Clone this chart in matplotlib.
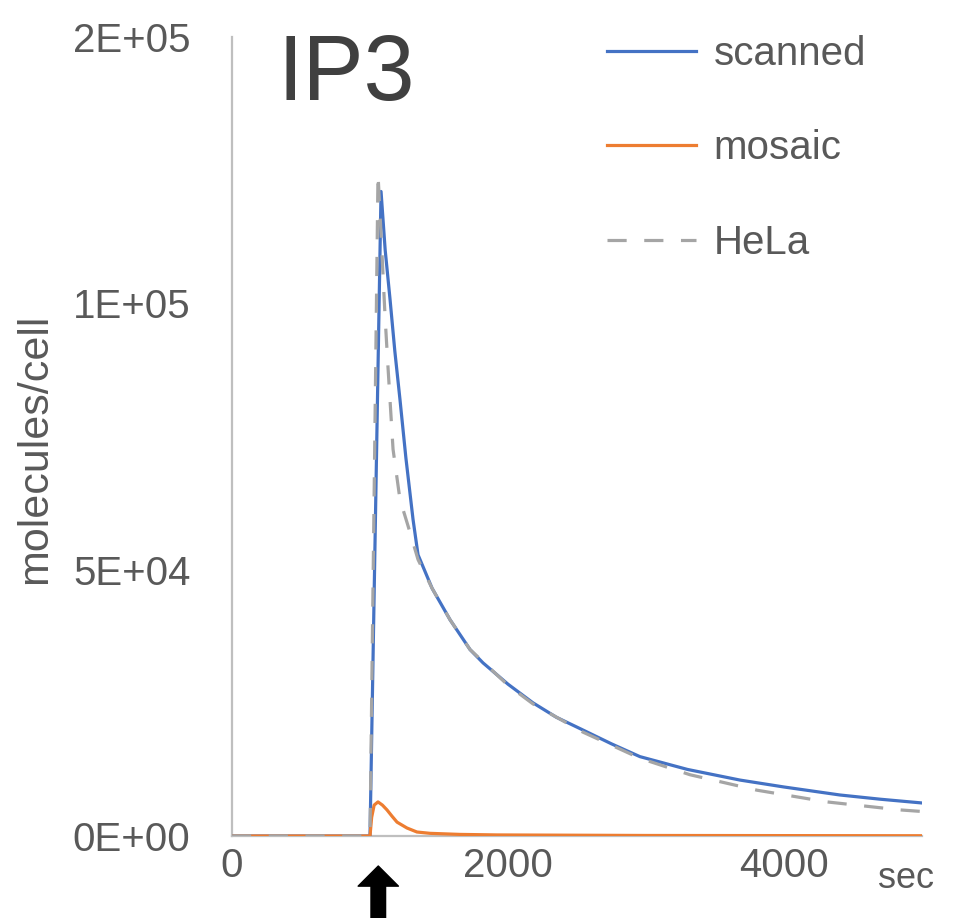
import matplotlib
matplotlib.use("Agg")
import matplotlib.pyplot as plt

plt.rcParams['font.family'] = ['Liberation Sans', 'DejaVu Sans']

# ---- data ----
scanned_t = [0, 1000, 1080, 1110, 1145, 1180, 1217, 1260, 1312, 1348, 1450, 1580, 1725,
             1819, 2000, 2181, 2350, 2543, 2750, 2956, 3300, 3681, 4000, 4405, 4700, 5000]
scanned_v = [0, 0, 121000, 110000, 100800, 91000, 82000, 71000, 59400, 52800, 46500, 40600, 35000,
             32500, 28500, 25000, 22300, 19900, 17300, 14900, 12500, 10500, 9200, 7700, 6900, 6200]

mosaic_t = [0, 1000, 1012, 1030, 1058, 1090, 1123, 1160, 1196, 1268, 1340, 1435, 1650, 1920, 3000, 5000]
mosaic_v = [0, 0, 3500, 5800, 6400, 5800, 4900, 3700, 2600, 1500, 750, 500, 300, 200, 100, 50]

hela_t = [0, 1000, 1058, 1080, 1109, 1130, 1167, 1217, 1290, 1348, 1450, 1580, 1725,
          2000, 2181, 2543, 2956, 3319, 3804, 4311, 4840, 5000]
hela_v = [0, 0, 124300, 113000, 97600, 88200, 72600, 63200, 57000, 51900, 46500, 40600, 35000,
          28300, 24800, 19500, 14600, 11500, 8600, 6400, 4900, 4600]

series_names = ["scanned", "mosaic", "HeLa"]
y_ticks = [0, 50000, 100000, 150000]
y_tick_labels = ["0E+00", "5E+04", "1E+05", "2E+05"]
x_ticks = [0, 2000, 4000]
x_tick_labels = ["0", "2000", "4000"]
stimulus_t = 1060

# ---- figure ----
fig = plt.figure(figsize=(9.69, 9.18), dpi=100)
ax = fig.add_axes([232/969, 1-836/918, (922-232)/969, (836-37)/918])

blue, orange, gray = "#4472C4", "#ED7D31", "#A5A5A5"
ax.plot(scanned_t, scanned_v, color=blue, lw=2.3, label=series_names[0], zorder=3,
        solid_joinstyle='round')
ax.plot(mosaic_t, mosaic_v, color=orange, lw=2.3, label=series_names[1], zorder=4,
        solid_joinstyle='round')
ax.plot(hela_t, hela_v, color=gray, lw=2.3, dashes=(6, 5.5), label=series_names[2], zorder=5)

ax.set_xlim(0, 5000)
ax.set_ylim(0, 150000)
ax.set_yticks(y_ticks)
ax.set_yticklabels(y_tick_labels)
ax.set_xticks(x_ticks)
ax.set_xticklabels(x_tick_labels)
ax.tick_params(axis='both', length=0, labelsize=29, labelcolor="#595959")
ax.tick_params(axis='y', pad=30)
ax.tick_params(axis='x', pad=8)

for s in ['top', 'right']:
    ax.spines[s].set_visible(False)
for s in ['left', 'bottom']:
    ax.spines[s].set_color("#BFBFBF")
    ax.spines[s].set_linewidth(1.6)

leg = ax.legend(loc='upper left', bbox_to_anchor=(607/969, 1-35/918),
                bbox_transform=fig.transFigure, frameon=False, fontsize=29,
                handlelength=2.2, handletextpad=0.45, labelspacing=1.4,
                borderpad=0, borderaxespad=0)
for t in leg.get_texts():
    t.set_color("#595959")

fig.text(277/969, 1-100/918, "IP3", fontsize=66, color="#404040", ha='left', va='baseline')
fig.text(35/969, 1-449/918, "molecules/cell", fontsize=31, color="#595959",
         rotation=90, ha='center', va='center')
fig.text(878/969, 1-888/918, "sec", fontsize=26, color="#595959", ha='left', va='baseline')

ax.annotate('', xy=(stimulus_t, 1-866/918), xycoords=('data', 'figure fraction'),
            xytext=(stimulus_t, -0.01), textcoords=('data', 'figure fraction'),
            arrowprops=dict(arrowstyle='simple,head_width=2.9,head_length=1.45,tail_width=1.05',
                            mutation_scale=10, color='black', shrinkA=0, shrinkB=0),
            annotation_clip=False)

fig.savefig("out.png", dpi=100)
